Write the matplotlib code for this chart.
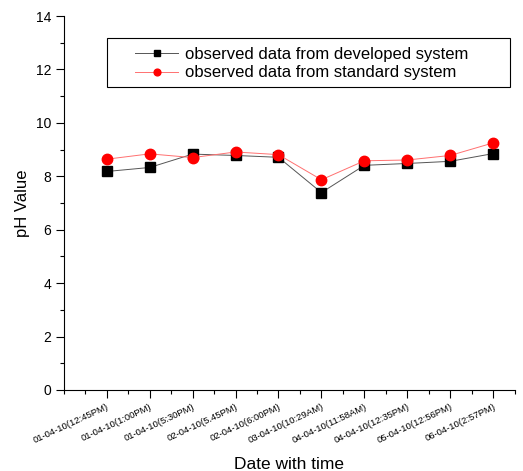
import matplotlib
matplotlib.use('agg')
import matplotlib.pyplot as plt
from matplotlib.patches import Rectangle
from matplotlib.ticker import MultipleLocator

plt.rcParams['font.family'] = ['Liberation Sans', 'DejaVu Sans']

dates = ['01-04-10(12:45PM)', '01-04-10(1:00PM)', '01-04-10(5:30PM)',
         '02-04-10(5.45PM)', '02-04-10(6:00PM)', '03-04-10(10:29AM)',
         '04-04-10(11:58AM)', '04-04-10(12:35PM)', '05-04-10(12:56PM)',
         '06-04-10(2:57PM)']
developed = [8.18, 8.33, 8.83, 8.78, 8.71, 7.39, 8.41, 8.48, 8.56, 8.85]
standard = [8.64, 8.84, 8.70, 8.91, 8.81, 7.87, 8.58, 8.61, 8.78, 9.25]

x = list(range(1, len(dates) + 1))

fig = plt.figure(figsize=(5.23, 4.71), dpi=100)
ax = fig.add_axes([0.122, 0.172, 0.862, 0.794])

ax.plot(x, developed, color='#555555', lw=0.7, marker='s', ms=6.5,
        mfc='black', mec='black', label='observed data from developed system')
ax.plot(x, standard, color='#ff7070', lw=0.7, marker='o', ms=7.5,
        mfc='red', mec='red', label='observed data from standard system')

ax.set_xlim(0, 10.5)
ax.set_ylim(0, 14)
ax.set_xticks(x)
ax.set_xticklabels(dates, rotation=25, ha='right', fontsize=6.8,
                   rotation_mode='anchor')
ax.xaxis.set_minor_locator(MultipleLocator(0.5))
ax.yaxis.set_major_locator(MultipleLocator(2))
ax.yaxis.set_minor_locator(MultipleLocator(1))
ax.tick_params(axis='y', labelsize=10)
ax.tick_params(which='major', direction='out', length=5.5, width=0.8)
ax.tick_params(which='minor', direction='out', length=3, width=0.8)

ax.spines['top'].set_visible(False)
ax.spines['right'].set_visible(False)

ax.set_xlabel('Date with time', fontsize=12.5, labelpad=8)
ax.set_ylabel('pH Value', fontsize=12, labelpad=4)

# legend box drawn separately so it can be wider than its content
ax.add_patch(Rectangle((0.095, 0.810), 0.894, 0.131, transform=ax.transAxes,
                       fill=False, edgecolor='black', lw=0.8, zorder=5))
leg = ax.legend(loc='upper left', bbox_to_anchor=(0.158, 0.917), fontsize=12,
                frameon=False, borderpad=0, labelspacing=0.2,
                handlelength=2.6, handletextpad=0.4, borderaxespad=0,
                markerscale=0.65)

fig.savefig('out.png', dpi=100)
